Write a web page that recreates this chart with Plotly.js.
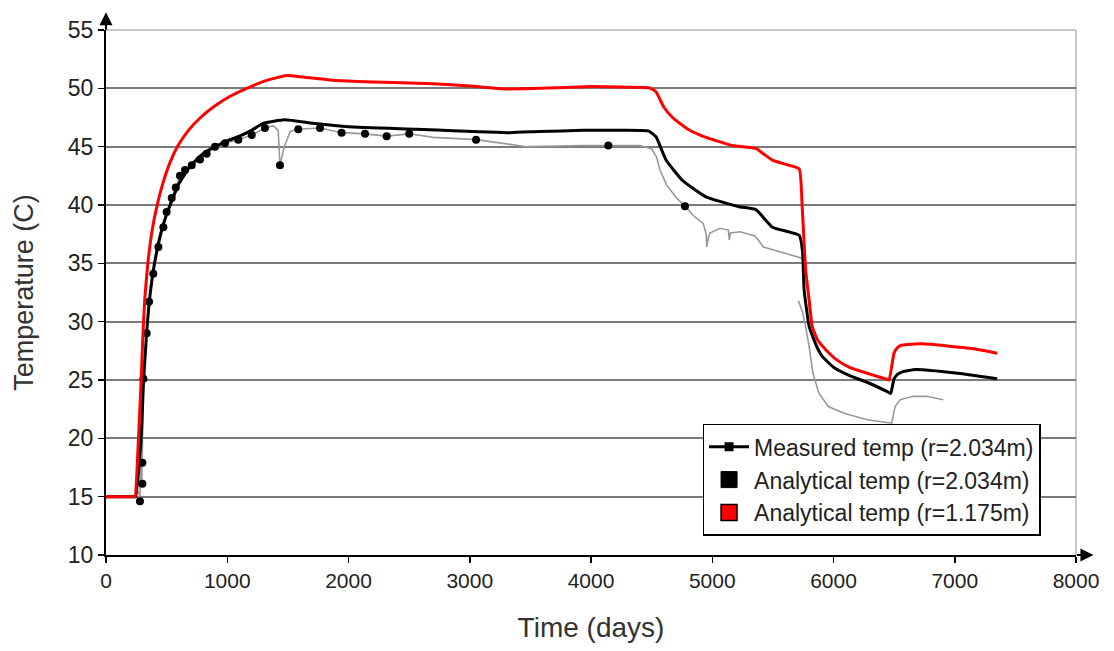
<!DOCTYPE html>
<html>
<head>
<meta charset="utf-8">
<script src="https://cdn.plot.ly/plotly-3.0.1.min.js"></script>
<style>
html,body{margin:0;padding:0;background:#fff;}
#chart{width:1114px;height:651px;}
</style>
</head>
<body>
<div id="chart"></div>
<script>
// ---- Data ----
const redDays = [0,120,200,232,240,268,290,305,320,345,380,420,470,530,600,680,780,900,1020,1160,1300,1488,1600,1870,2200,2694,3000,3300,3575,4000,4300,4481,4536,4600,4672,4800,4948,5167,5360,5420,5496,5600,5717,5741,5771,5799,5824,5870,5936,6030,6128,6300,6431,6458,6499,6530,6568,6732,7144,7350];
const redTemp = [15,15,15,15,15,20,25,29,32,35,37.8,39.9,41.9,43.7,45.2,46.4,47.5,48.5,49.3,50.0,50.6,51.1,51.0,50.7,50.55,50.4,50.2,49.95,50.0,50.15,50.1,50.05,49.7,48.4,47.5,46.5,45.8,45.1,44.85,44.4,43.85,43.5,43.1,40.0,34.3,31.9,29.6,28.4,27.6,26.7,26.1,25.5,25.1,25.0,27.3,27.8,28.0,28.1,27.7,27.3];

const blackDays = [0,120,200,237,245,290,310,335,360,400,450,500,600,700,800,900,1000,1100,1200,1296,1474,1708,2000,2560,3332,3575,3936,4124,4473,4536,4619,4755,4948,5222,5360,5497,5717,5744,5758,5799,5860,5909,6000,6128,6300,6444,6472,6499,6530,6568,6678,7007,7350];
const blackTemp = [15,15,15,15,15,20,25,29,32,35,37.5,39.2,41.8,43.4,44.4,45.0,45.5,45.9,46.4,47.0,47.3,47.0,46.7,46.5,46.2,46.3,46.4,46.4,46.35,45.85,43.85,42.1,40.7,39.85,39.6,38.1,37.4,36.1,32.7,29.6,27.9,27.0,26.1,25.4,24.7,24.0,23.85,25.1,25.5,25.7,25.9,25.6,25.1];

const measDays = [270,280,285,290,295,300,308,320,335,355,390,432,473,500,542,575,610,652,707,775,830,899,981,1091,1202,1311,1380,1420,1435,1470,1520,1586,1765,1943,2136,2315,2501,2700,3052,3274,3470,3936,4143,4404,4500,4541,4569,4624,4706,4775,4844,4926,4950,4954,4970,4981,5064,5133,5140,5150,5229,5300,5352,5380,5421,5559,5751,5785,5800,null,5710,5745,5770,5800,5830,5880,5960,6100,6280,6480,6507,6548,6658,6768,6905];
const measTemp = [15.5,14.7,18.5,17.6,16.0,19.0,25.0,27.0,29.0,31.7,34.1,36.4,38.1,39.4,40.6,41.5,42.5,43.0,43.4,43.9,44.4,45.0,45.3,45.6,46.0,46.6,46.8,46.4,43.4,45.0,46.3,46.5,46.6,46.2,46.1,45.9,46.1,45.8,45.6,45.3,45.0,45.1,45.1,45.1,44.8,44.1,43.0,41.7,40.6,39.9,39.1,38.4,37.5,36.4,37.3,37.6,38.0,37.85,37.0,37.6,37.7,37.5,37.35,37.0,36.4,36.0,35.4,33.5,30.8,null,31.8,30.8,29.6,27.8,25.6,23.85,22.7,22.1,21.6,21.3,22.7,23.3,23.6,23.6,23.3];

const dotDays = [280,300,300,308,335,355,390,432,473,500,542,575,610,652,707,775,830,899,981,1091,1202,1311,1435,1586,1765,1943,2136,2315,2501,3052,4143,4775];
const dotTemp = [14.6,16.1,17.9,25.1,29.0,31.7,34.1,36.4,38.1,39.4,40.6,41.5,42.5,43.0,43.4,43.9,44.4,45.0,45.3,45.6,46.0,46.6,43.4,46.5,46.6,46.2,46.1,45.9,46.1,45.6,45.1,39.9];

const legendNames = ['Measured temp (r=2.034m)','Analytical temp (r=2.034m)','Analytical temp (r=1.175m)'];
const xTicks = [0,1000,2000,3000,4000,5000,6000,7000,8000];
const yTicks = [10,15,20,25,30,35,40,45,50,55];

// ---- Traces ----
const traces = [
  {x: measDays, y: measTemp, mode:'lines', line:{color:'#999999', width:1.6}, showlegend:false, hoverinfo:'skip'},
  {x: dotDays, y: dotTemp, mode:'markers', marker:{color:'#000', size:8, symbol:'circle'}, showlegend:false},
  {x: blackDays, y: blackTemp, mode:'lines', line:{color:'#000', width:3, shape:'spline', smoothing:0.4}, showlegend:false},
  {x: redDays, y: redTemp, mode:'lines', line:{color:'#ff0000', width:3, shape:'spline', smoothing:0.4}, showlegend:false},
  // legend entries
  {x:[null], y:[null], mode:'lines+markers', name: legendNames[0], line:{color:'#000', width:3}, marker:{symbol:'square', size:9, color:'#000'}},
  {x:[null], y:[null], mode:'markers', name: legendNames[1], marker:{symbol:'square', size:17, color:'#000', line:{color:'#000', width:1}}},
  {x:[null], y:[null], mode:'markers', name: legendNames[2], marker:{symbol:'square', size:17, color:'#ff0000', line:{color:'#000', width:1.5}}}
];

const fontFam = 'Liberation Sans, Arial, sans-serif';

const layout = {
  width:1114, height:651,
  paper_bgcolor:'#fff', plot_bgcolor:'#fff',
  margin:{l:106, r:38, t:30, b:96},
  font:{family:fontFam, color:'#222'},
  xaxis:{
    range:[0,8000], tickvals:xTicks, ticktext:xTicks.map(String),
    showgrid:false, zeroline:false, showline:true, linecolor:'#000', linewidth:2,
    ticks:'outside', ticklen:6, tickcolor:'#000', tickwidth:1.5,
    tickfont:{size:21, family:fontFam, color:'#222'},
    title:{text:'Time (days)', font:{size:28, family:fontFam, color:'#333'}, standoff:26}
  },
  yaxis:{
    range:[10,55], tickvals:yTicks, ticktext:yTicks.map(String),
    showgrid:true, gridcolor:'#7a7a7a', gridwidth:2,
    zeroline:false, showline:true, linecolor:'#000', linewidth:2,
    ticks:'outside', ticklen:6, tickcolor:'#000', tickwidth:1.5,
    tickfont:{size:23, family:fontFam, color:'#222'},
    title:{text:'Temperature (C)', font:{size:27, family:fontFam, color:'#333'}, standoff:26}
  },
  shapes:[
    {type:'line', xref:'paper', yref:'paper', x0:0, x1:1, y0:1, y1:1, line:{color:'#c8c8c8', width:2}, layer:'between'},
    {type:'line', xref:'paper', yref:'paper', x0:1, x1:1, y0:0, y1:1, line:{color:'#c8c8c8', width:2}, layer:'between'}
  ],
  annotations:[
    {xref:'paper', yref:'paper', x:1.018, y:0, ax:-18, ay:0, text:'', showarrow:true, arrowhead:2, arrowsize:1.3, arrowwidth:2, arrowcolor:'#000'},
    {xref:'paper', yref:'paper', x:0, y:1.034, ax:0, ay:19, text:'', showarrow:true, arrowhead:2, arrowsize:1.3, arrowwidth:2, arrowcolor:'#000'}
  ],
  legend:{
    x:0.615, y:0.25, xanchor:'left', yanchor:'top',
    bgcolor:'#fff', bordercolor:'#000', borderwidth:1.5,
    font:{size:23, family:fontFam, color:'#222'},
    tracegroupgap:0, itemwidth:40
  },
  showlegend:true
};

Plotly.newPlot('chart', traces, layout, {displayModeBar:false, staticPlot:true});
</script>
</body>
</html>
